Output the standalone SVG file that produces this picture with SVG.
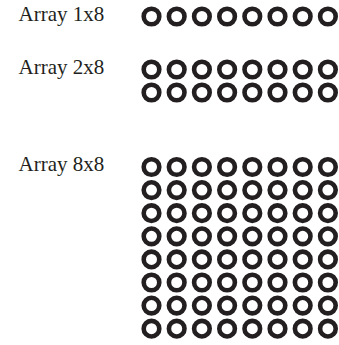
<svg xmlns="http://www.w3.org/2000/svg" xmlns:xlink="http://www.w3.org/1999/xlink" width="339" height="345" viewBox="0 0 339 345">
<style>
.lbl{font-family:"Liberation Serif","Times New Roman",serif;font-size:21px;fill:#231f20}
.o{fill:none;stroke:#231f20;stroke-width:4.6}
</style>
<defs>
<circle id="c" r="7.8" class="o"/>
<g id="row">
<use xlink:href="#c" x="151.5"/><use xlink:href="#c" x="176.7"/><use xlink:href="#c" x="201.9"/><use xlink:href="#c" x="227.1"/>
<use xlink:href="#c" x="252.3"/><use xlink:href="#c" x="277.5"/><use xlink:href="#c" x="302.7"/><use xlink:href="#c" x="327.9"/>
</g>
</defs>
<rect width="339" height="345" fill="#fff"/>
<g id="array1x8">
<text class="lbl" x="18.5" y="21">Array 1x8</text>
<use xlink:href="#row" y="16.5"/>
</g>
<g id="array2x8">
<text class="lbl" x="18.5" y="74">Array 2x8</text>
<use xlink:href="#row" y="69.5"/>
<use xlink:href="#row" y="92.5"/>
</g>
<g id="array8x8">
<text class="lbl" x="18.5" y="170.5">Array 8x8</text>
<use xlink:href="#row" y="167"/>
<use xlink:href="#row" y="190.1"/>
<use xlink:href="#row" y="213.2"/>
<use xlink:href="#row" y="236.3"/>
<use xlink:href="#row" y="259.4"/>
<use xlink:href="#row" y="282.5"/>
<use xlink:href="#row" y="305.6"/>
<use xlink:href="#row" y="328.7"/>
</g>
</svg>
